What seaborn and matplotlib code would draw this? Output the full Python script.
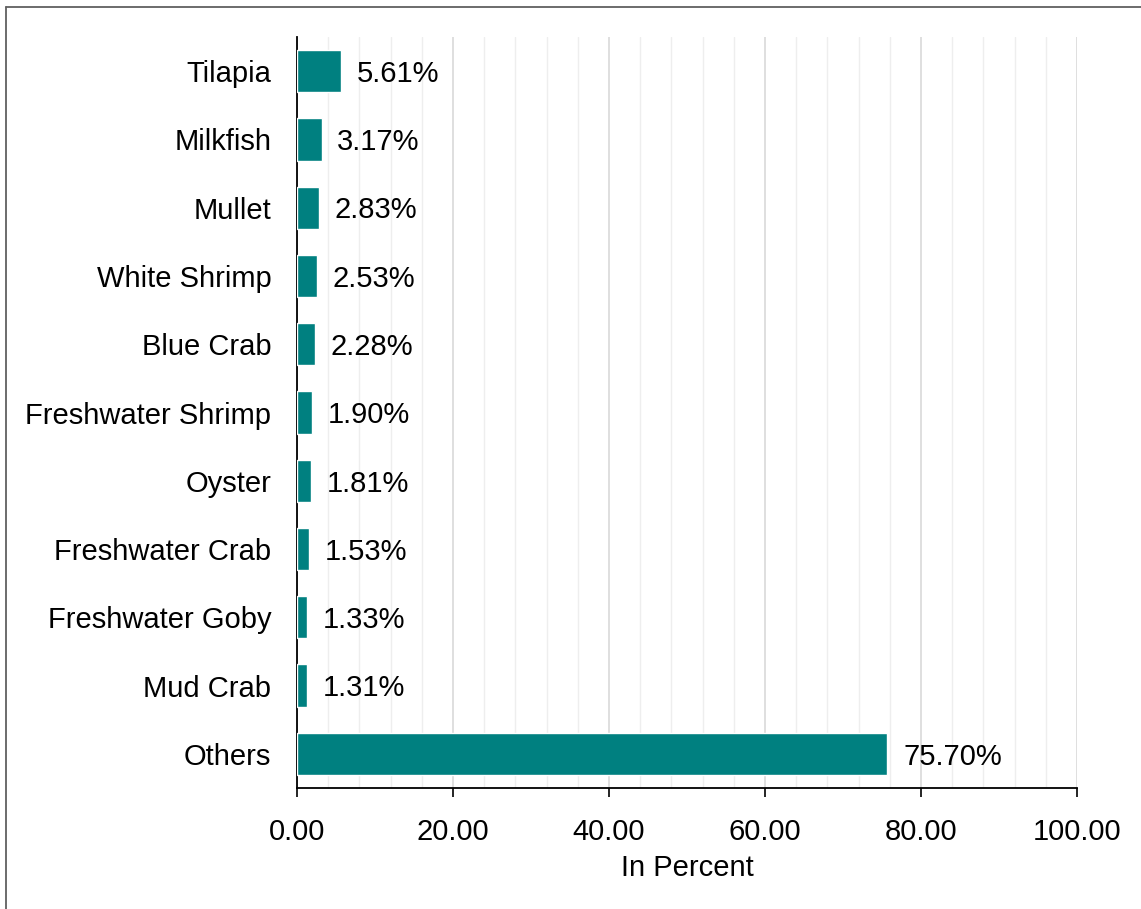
import matplotlib
matplotlib.use("Agg")
import matplotlib.pyplot as plt
import seaborn as sns
import pandas as pd
from matplotlib.ticker import MultipleLocator
from matplotlib.lines import Line2D

# data
species = ["Tilapia", "Milkfish", "Mullet", "White Shrimp", "Blue Crab",
           "Freshwater Shrimp", "Oyster", "Freshwater Crab", "Freshwater Goby",
           "Mud Crab", "Others"]
percent = [5.61, 3.17, 2.83, 2.53, 2.28, 1.90, 1.81, 1.53, 1.33, 1.31, 75.70]

df = pd.DataFrame({"species": species, "percent": percent})

sns.set_style("white")
plt.rcParams["font.family"] = ["Liberation Sans", "DejaVu Sans"]
plt.rcParams["text.color"] = "black"
plt.rcParams["xtick.color"] = "black"
plt.rcParams["ytick.color"] = "black"
plt.rcParams["axes.labelcolor"] = "black"

FS = 21

fig = plt.figure(figsize=(11.41, 9.09), dpi=100)
ax = fig.add_axes([0.2603, 0.1331, 0.6836, 0.8262])

sns.barplot(data=df, x="percent", y="species", color="#008080",
            width=0.62, saturation=1, ax=ax, zorder=3)

for i, v in enumerate(percent):
    ax.text(v + 2.0, i + 0.04, f"{v:.2f}%", va="center", ha="left", fontsize=FS)

ax.set_xlim(0, 100)
ax.set_ylim(10.5, -0.5)
ax.xaxis.set_major_locator(MultipleLocator(20))
ax.xaxis.set_minor_locator(MultipleLocator(4))
ax.set_xticks(range(0, 101, 20))
ax.set_xticklabels([f"{t:.2f}" for t in range(0, 101, 20)], fontsize=FS)
ax.tick_params(axis="y", labelsize=FS, length=0, pad=18.5)
ax.tick_params(axis="x", which="major", length=6.5, width=1.2, color="black",
               direction="out", bottom=True, pad=15)
ax.tick_params(axis="x", which="minor", length=0)
ax.grid(axis="x", which="major", color="#d9d9d9", linewidth=1.2, zorder=0)
ax.grid(axis="x", which="minor", color="#eeeeee", linewidth=1.0, zorder=0)
ax.set_axisbelow(True)

ax.set_xlabel("In Percent", fontsize=FS, labelpad=6)
ax.set_ylabel("")

for s in ["top", "right"]:
    ax.spines[s].set_visible(False)
ax.spines["left"].set_color("black")
ax.spines["bottom"].set_color("black")
ax.spines["left"].set_linewidth(1.3)
ax.spines["bottom"].set_linewidth(1.3)

# outer frame (left and top edges visible)
fig.add_artist(Line2D([6 / 1141, 6 / 1141], [0, 1 - 7 / 909],
                      transform=fig.transFigure, color="#606060", linewidth=1.3))
fig.add_artist(Line2D([6 / 1141, 1], [1 - 7 / 909, 1 - 7 / 909],
                      transform=fig.transFigure, color="#606060", linewidth=1.3))

fig.savefig("out.png", dpi=100)
